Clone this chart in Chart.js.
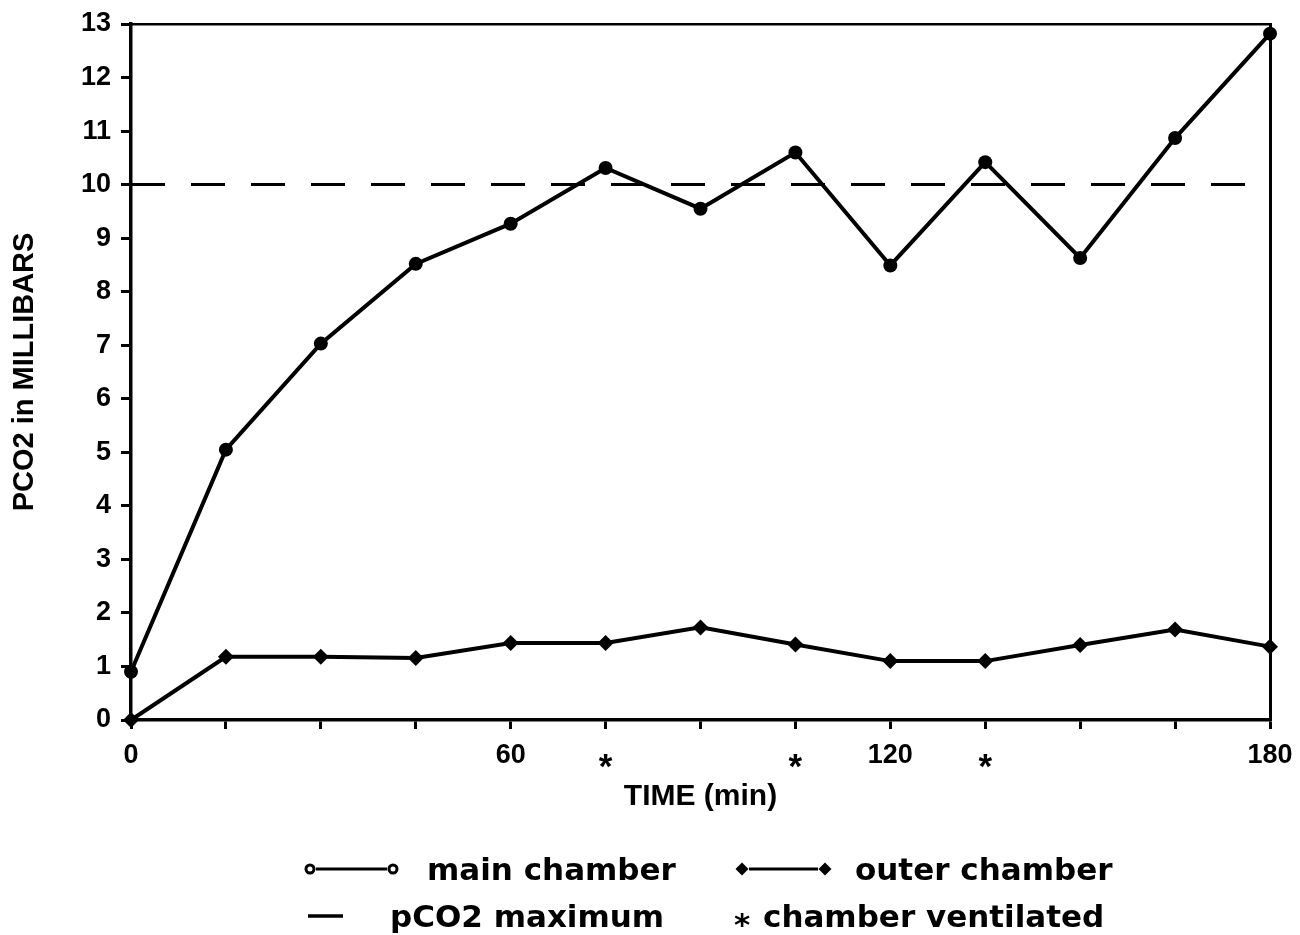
<!DOCTYPE html>
<html><head><meta charset="utf-8">
<script src="https://cdn.jsdelivr.net/npm/chart.js@4.4.0/dist/chart.umd.min.js"></script>
<style>
html,body{margin:0;padding:0;background:#fff;}
#wrap{position:relative;width:1300px;height:935px;background:#fff;overflow:hidden;}
canvas{position:absolute;left:0;top:0;}
.lg{position:absolute;font-family:"DejaVu Sans",sans-serif;font-weight:bold;font-size:31px;color:#000;white-space:nowrap;line-height:32px;height:34px;}
svg.sym{position:absolute;}
</style></head><body>
<div id="wrap">
<canvas id="c" width="1300" height="935"></canvas>
<svg class="sym" style="left:300px;top:859px" width="104" height="20"><circle cx="10" cy="10" r="4" fill="#fff" stroke="#000" stroke-width="3"/><line x1="16" y1="10" x2="87" y2="10" stroke="#000" stroke-width="3"/><circle cx="93" cy="10" r="4" fill="#fff" stroke="#000" stroke-width="3"/></svg>
<span class="lg" style="left:427px;top:853px;">main chamber</span>
<svg class="sym" style="left:732px;top:859px" width="104" height="20"><path d="M10 3.5 L16.5 10 L10 16.5 L3.5 10 Z" fill="#000"/><line x1="17" y1="10" x2="86" y2="10" stroke="#000" stroke-width="3"/><path d="M93 3.5 L99.5 10 L93 16.5 L86.5 10 Z" fill="#000"/></svg>
<span class="lg" style="left:855px;top:853px;">outer chamber</span>
<svg class="sym" style="left:306px;top:906px" width="40" height="20"><line x1="2" y1="10" x2="37" y2="10" stroke="#000" stroke-width="3.5"/></svg>
<span class="lg" style="left:390px;top:900px;">pCO2 maximum</span>
<span class="lg" style="left:734px;top:908px;">*</span>
<span class="lg" style="left:763px;top:900px;">chamber ventilated</span>
</div>
<script>
const times = [0, 15, 30, 45, 60, 75, 90, 105, 120, 135, 150, 165, 180];
const mainChamber = [0.9, 5.05, 7.03, 8.52, 9.27, 10.31, 9.55, 10.6, 8.49, 10.42, 8.63, 10.87, 12.82];
const outerChamber = [0, 1.18, 1.18, 1.16, 1.44, 1.44, 1.73, 1.41, 1.10, 1.10, 1.40, 1.69, 1.37];
const maxTimes = [0, 180];
const pco2Max = [10, 10];
const xTickValues = [0, 15, 30, 45, 60, 75, 90, 105, 120, 135, 150, 165, 180];
const xTickLabels = ['0', '', '', '', '60', '*', '', '*', '120', '*', '', '', '180'];
const yTickValues = [0, 1, 2, 3, 4, 5, 6, 7, 8, 9, 10, 11, 12, 13];
const yTickLabels = ['0', '1', '2', '3', '4', '5', '6', '7', '8', '9', '10', '11', '12', '13'];

const fam = '"Liberation Sans", Arial, sans-serif';
const tickFont = {family: fam, weight: 'bold', size: 27};
const starFont = {family: fam, weight: 'bold', size: 35, lineHeight: 1.7};

new Chart(document.getElementById('c'), {
  type: 'line',
  data: {
    datasets: [
      {
        label: 'main chamber',
        data: times.map((t, i) => ({x: t, y: mainChamber[i]})),
        borderColor: '#000', backgroundColor: '#000', borderWidth: 4,
        pointStyle: 'circle', pointRadius: 7, pointBorderWidth: 0,
        tension: 0, clip: false
      },
      {
        label: 'outer chamber',
        data: times.map((t, i) => ({x: t, y: outerChamber[i]})),
        borderColor: '#000', backgroundColor: '#000', borderWidth: 4,
        pointStyle: 'rectRot', pointRadius: 8, pointBorderWidth: 0,
        tension: 0, clip: false
      },
      {
        label: 'pCO2 maximum',
        data: maxTimes.map((t, i) => ({x: t, y: pco2Max[i]})),
        borderColor: '#000', borderWidth: 3, borderDash: [34, 26],
        pointRadius: 0, tension: 0, clip: false
      }
    ]
  },
  options: {
    responsive: false,
    devicePixelRatio: 1,
    animation: false,
    layout: {padding: {left: 0, right: 30, top: 24, bottom: 120}},
    plugins: {legend: {display: false}, tooltip: {enabled: false}},
    scales: {
      x: {
        type: 'linear', position: 'bottom', min: 0, max: 180,
        afterBuildTicks: s => { s.ticks = xTickValues.map(v => ({value: v})); },
        afterFit: s => { s.height = 95; s.paddingLeft = 0; s.paddingRight = 0; },
        ticks: {
          autoSkip: false, maxRotation: 0, padding: 10, color: '#000',
          font: ctx => (xTickLabels[ctx.index] === '*' ? starFont : tickFont),
          callback: v => xTickLabels[xTickValues.indexOf(v)]
        },
        grid: {drawOnChartArea: false, drawTicks: true, tickLength: 9, tickWidth: 3, color: '#000'},
        border: {display: true, width: 3.5, color: '#000'},
        title: {display: true, text: 'TIME (min)', color: '#000', font: {family: fam, weight: 'bold', size: 30}, padding: {top: 0, bottom: 0}}
      },
      y: {
        type: 'linear', position: 'left', min: 0, max: 13,
        afterBuildTicks: s => { s.ticks = yTickValues.map(v => ({value: v})); },
        afterFit: s => { s.width = 131; s.paddingTop = 0; s.paddingBottom = 0; },
        ticks: {
          autoSkip: false, padding: 10, color: '#000', font: tickFont,
          callback: v => yTickLabels[yTickValues.indexOf(v)]
        },
        grid: {drawOnChartArea: false, drawTicks: true, tickLength: 10, tickWidth: 3, color: '#000'},
        border: {display: true, width: 3.5, color: '#000'},
        title: {display: true, text: 'PCO2 in MILLIBARS', color: '#000', font: {family: fam, weight: 'bold', size: 29}, padding: {top: 8, bottom: 0}}
      },
      x2: {
        type: 'linear', position: 'top', min: 0, max: 180,
        ticks: {display: false}, grid: {display: false, drawTicks: false},
        border: {display: true, width: 2.5, color: '#000'},
        afterFit: s => { s.height = 0; s.paddingLeft = 0; s.paddingRight = 0; }
      },
      y2: {
        type: 'linear', position: 'right', min: 0, max: 13,
        ticks: {display: false}, grid: {display: false, drawTicks: false},
        border: {display: true, width: 3, color: '#000'},
        afterFit: s => { s.width = 0; s.paddingTop = 0; s.paddingBottom = 0; }
      }
    }
  }
});
</script>
</body></html>
